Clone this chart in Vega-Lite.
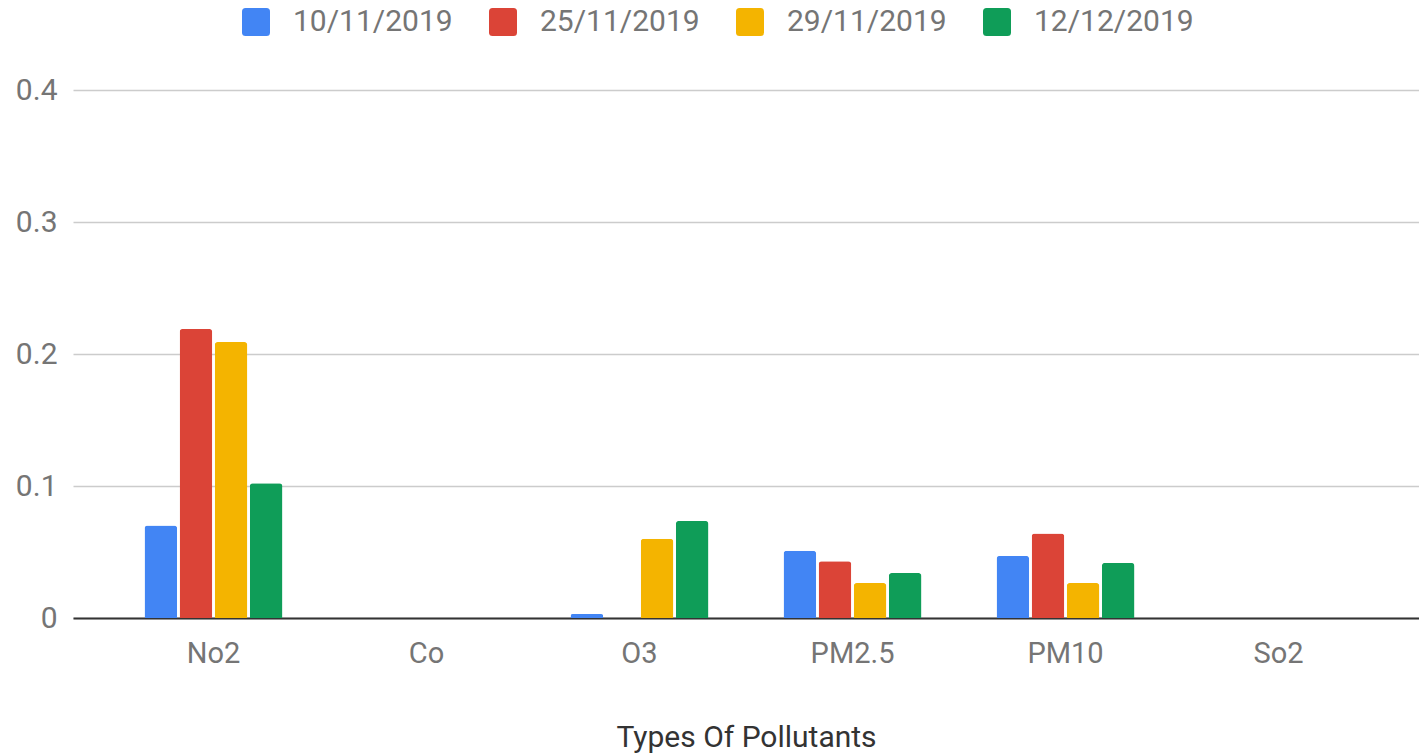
{
  "$schema": "https://vega.github.io/schema/vega-lite/v6.json",
  "width": 1346,
  "height": 528,
  "autosize": {"type": "none"},
  "padding": {"left": 73, "top": 90, "right": 0, "bottom": 137},
  "background": "white",
  "config": {
    "view": {"stroke": null},
    "font": "Roboto"
  },
  "data": {
    "values": [
      {"pollutant": "No2", "date": "10/11/2019", "value": 0.07},
      {"pollutant": "No2", "date": "25/11/2019", "value": 0.219},
      {"pollutant": "No2", "date": "29/11/2019", "value": 0.209},
      {"pollutant": "No2", "date": "12/12/2019", "value": 0.102},
      {"pollutant": "Co", "date": "10/11/2019", "value": 0},
      {"pollutant": "Co", "date": "25/11/2019", "value": 0},
      {"pollutant": "Co", "date": "29/11/2019", "value": 0},
      {"pollutant": "Co", "date": "12/12/2019", "value": 0},
      {"pollutant": "O3", "date": "10/11/2019", "value": 0.003},
      {"pollutant": "O3", "date": "25/11/2019", "value": 0},
      {"pollutant": "O3", "date": "29/11/2019", "value": 0.06},
      {"pollutant": "O3", "date": "12/12/2019", "value": 0.0735},
      {"pollutant": "PM2.5", "date": "10/11/2019", "value": 0.051},
      {"pollutant": "PM2.5", "date": "25/11/2019", "value": 0.043},
      {"pollutant": "PM2.5", "date": "29/11/2019", "value": 0.0265},
      {"pollutant": "PM2.5", "date": "12/12/2019", "value": 0.034},
      {"pollutant": "PM10", "date": "10/11/2019", "value": 0.047},
      {"pollutant": "PM10", "date": "25/11/2019", "value": 0.064},
      {"pollutant": "PM10", "date": "29/11/2019", "value": 0.0265},
      {"pollutant": "PM10", "date": "12/12/2019", "value": 0.0417},
      {"pollutant": "So2", "date": "10/11/2019", "value": 0},
      {"pollutant": "So2", "date": "25/11/2019", "value": 0},
      {"pollutant": "So2", "date": "29/11/2019", "value": 0},
      {"pollutant": "So2", "date": "12/12/2019", "value": 0}
    ]
  },
  "mark": {"type": "bar", "cornerRadiusTopLeft": 3, "cornerRadiusTopRight": 3},
  "encoding": {
    "x": {
      "field": "pollutant",
      "type": "nominal",
      "sort": ["No2", "Co", "O3", "PM2.5", "PM10", "So2"],
      "scale": {"paddingInner": 0.341, "paddingOuter": 0.33},
      "axis": {
        "title": "Types Of Pollutants",
        "labelAngle": 0,
        "ticks": false,
        "labelPadding": 21,
        "labelFontSize": 29,
        "labelColor": "#757575",
        "labelFont": "Roboto",
        "domainColor": "#333333",
        "domainWidth": 2,
        "titleFontSize": 30,
        "titleFontWeight": "normal",
        "titleColor": "#333333",
        "titleFont": "Roboto",
        "titlePadding": 54
      }
    },
    "xOffset": {
      "field": "date",
      "type": "nominal",
      "sort": ["10/11/2019", "25/11/2019", "29/11/2019", "12/12/2019"],
      "scale": {"paddingInner": 0.07, "paddingOuter": 0.035}
    },
    "y": {
      "field": "value",
      "type": "quantitative",
      "scale": {"domain": [0, 0.4], "nice": false},
      "axis": {
        "title": null,
        "values": [0, 0.1, 0.2, 0.3, 0.4],
        "format": ".1~f",
        "ticks": false,
        "domain": false,
        "labelPadding": 16,
        "labelFontSize": 30,
        "labelColor": "#757575",
        "labelFont": "Roboto",
        "gridColor": "#cccccc",
        "gridWidth": 1.5
      }
    },
    "color": {
      "field": "date",
      "type": "nominal",
      "sort": ["10/11/2019", "25/11/2019", "29/11/2019", "12/12/2019"],
      "scale": {
        "domain": ["10/11/2019", "25/11/2019", "29/11/2019", "12/12/2019"],
        "range": ["#4285F4", "#DB4437", "#F4B400", "#0F9D58"]
      },
      "legend": {
        "title": null,
        "orient": "none",
        "direction": "horizontal",
        "legendX": 168,
        "legendY": -83,
        "padding": 0,
        "symbolType": "M -0.75 -1 L 0.75 -1 Q 1 -1 1 -0.75 L 1 0.75 Q 1 1 0.75 1 L -0.75 1 Q -1 1 -1 0.75 L -1 -0.75 Q -1 -1 -0.75 -1 Z",
        "symbolSize": 784,
        "symbolStrokeWidth": 0,
        "symbolOpacity": 1,
        "labelFontSize": 30,
        "labelColor": "#757575",
        "labelFont": "Roboto",
        "labelOffset": 22,
        "columnPadding": 35
      }
    }
  }
}
